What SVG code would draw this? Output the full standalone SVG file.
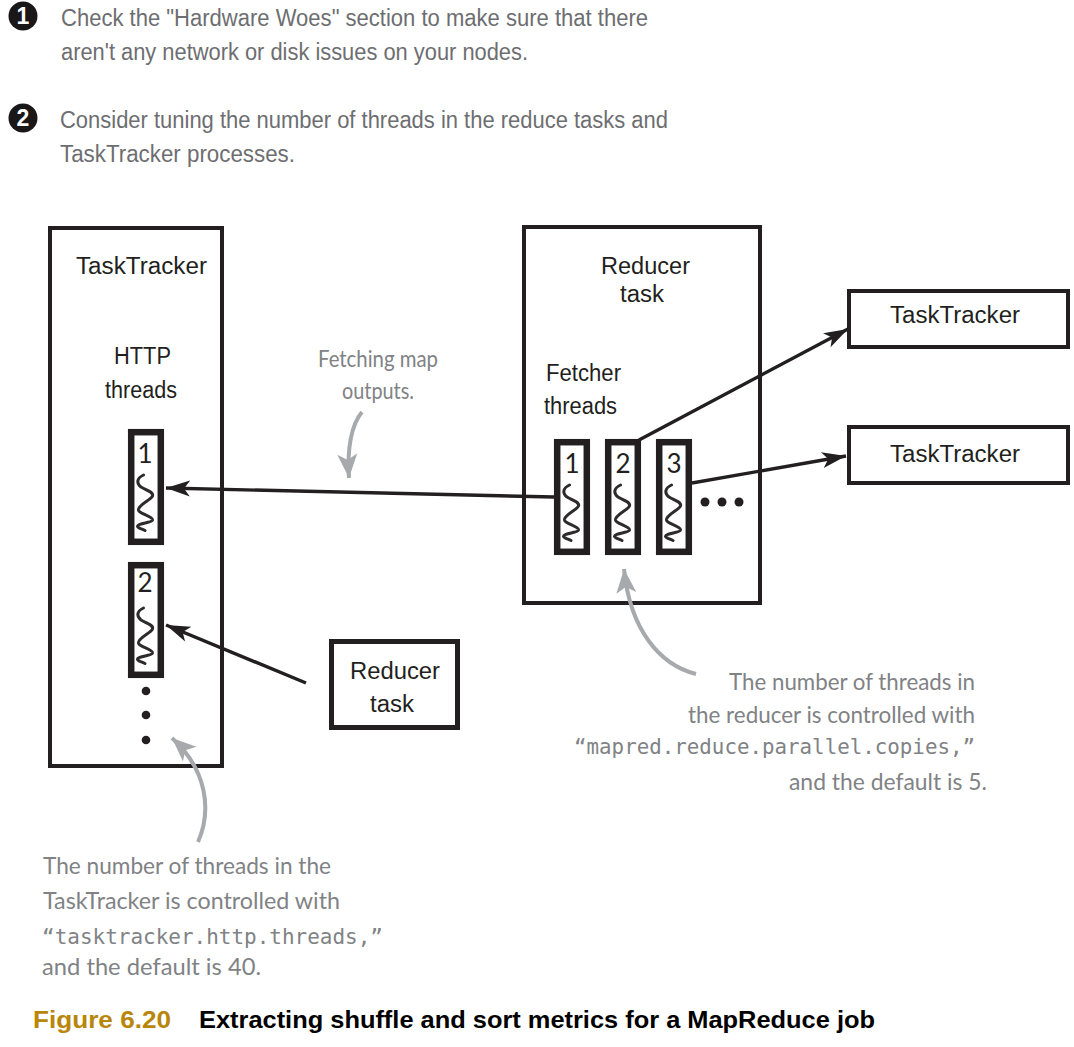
<svg xmlns="http://www.w3.org/2000/svg" width="1074" height="1047" viewBox="0 0 1074 1047">
<style>
text{font-family:"Liberation Sans",Arial,sans-serif}
.intro{font-size:23px;fill:#6d6e71}
.lab{font-size:23.5px;fill:#231f20}
.num{font-size:26px;fill:#231f20;text-anchor:middle;font-family:"Lato",sans-serif}
.note{font-family:"Lato","Open Sans",sans-serif;font-size:24px;fill:#808285}
.code{font-family:"DejaVu Sans Mono","Liberation Mono",monospace;font-size:21px;fill:#808285}
.box{fill:#fff;stroke:#231f20;stroke-width:4}
.thr{fill:#fff;stroke:#231f20;stroke-width:6.500}
.sq{fill:none;stroke:#2e2b2c;stroke-width:3;stroke-linecap:round}
.ln{fill:none;stroke:#231f20;stroke-width:3.400}
.gr{fill:none;stroke:#a7a9ac;stroke-width:4}
.dot{fill:#231f20}
</style>
<defs>
<marker id="ah" markerUnits="userSpaceOnUse" markerWidth="26" markerHeight="18" refX="24" refY="9" orient="auto"><path d="M0 1L24 9L0 17L6 9Z" fill="#231f20"/></marker>
<marker id="gh" markerUnits="userSpaceOnUse" markerWidth="26" markerHeight="22" refX="24" refY="11" orient="auto"><path d="M0 1L24 11L0 21L6 11Z" fill="#a7a9ac"/></marker>
<g id="thread">
<rect class="thr" x="3.200" y="3.200" width="29.600" height="109.600"/>
<path class="sq" d="M15.500 46C9 49 8 54 13 58C18 61 26 63 24.500 67C23 71 10 76 10.500 81C11 85 25 87 24.500 91C24 94 9 94 9.500 97.500C10 99 14 100 17 101.500"/>
</g>
</defs>

<g id="intro">
<circle cx="23" cy="16" r="14.500" fill="#1a1718"/>
<text x="23" y="24" font-size="23" font-weight="700" fill="#fff" text-anchor="middle">1</text>
<text class="intro" x="61" y="26" textLength="587" lengthAdjust="spacingAndGlyphs">Check the "Hardware Woes" section to make sure that there</text>
<text class="intro" x="61" y="60" textLength="467" lengthAdjust="spacingAndGlyphs">aren't any network or disk issues on your nodes.</text>
<circle cx="23" cy="118" r="14.500" fill="#1a1718"/>
<text x="23" y="126" font-size="23" font-weight="700" fill="#fff" text-anchor="middle">2</text>
<text class="intro" x="60" y="128" textLength="608" lengthAdjust="spacingAndGlyphs">Consider tuning the number of threads in the reduce tasks and</text>
<text class="intro" x="60" y="162" textLength="235" lengthAdjust="spacingAndGlyphs">TaskTracker processes.</text>
</g>

<g id="tasktracker-main">
<rect class="box" x="50" y="228" width="172" height="538"/>
<text class="lab" x="76" y="274" textLength="131" lengthAdjust="spacingAndGlyphs">TaskTracker</text>
<text class="lab" x="114" y="364" textLength="57" lengthAdjust="spacingAndGlyphs">HTTP</text>
<text class="lab" x="105" y="398" textLength="72" lengthAdjust="spacingAndGlyphs">threads</text>
</g>
<g id="http-thread-1"><use href="#thread" x="128" y="429"/><text class="num" x="145" y="463">1</text></g>
<g id="http-thread-2"><use href="#thread" x="128" y="562"/><text class="num" x="145" y="592">2</text></g>
<g id="http-dots"><circle class="dot" cx="146" cy="691" r="4.300"/><circle class="dot" cx="146" cy="715" r="4.300"/><circle class="dot" cx="146" cy="740" r="4.300"/></g>

<g id="reducer-main">
<rect class="box" x="524" y="227" width="236" height="376"/>
<text class="lab" x="601" y="274" textLength="89" lengthAdjust="spacingAndGlyphs">Reducer</text>
<text class="lab" x="620" y="302" textLength="44" lengthAdjust="spacingAndGlyphs">task</text>
<text class="lab" x="546" y="381" textLength="75" lengthAdjust="spacingAndGlyphs">Fetcher</text>
<text class="lab" x="544" y="414" textLength="73" lengthAdjust="spacingAndGlyphs">threads</text>
</g>
<g id="fetcher-1"><use href="#thread" x="554" y="439"/><text class="num" x="572" y="473">1</text></g>
<g id="fetcher-2"><use href="#thread" x="605" y="439"/><text class="num" x="623" y="473">2</text></g>
<g id="fetcher-3"><use href="#thread" x="656" y="439"/><text class="num" x="674" y="473">3</text></g>
<g id="fetcher-dots"><circle class="dot" cx="705" cy="502" r="4.500"/><circle class="dot" cx="722" cy="502" r="4.500"/><circle class="dot" cx="739" cy="502" r="4.500"/></g>

<g id="tasktracker-1"><rect class="box" x="849" y="291" width="219" height="56"/><text class="lab" x="890" y="323" textLength="130" lengthAdjust="spacingAndGlyphs">TaskTracker</text></g>
<g id="tasktracker-2"><rect class="box" x="849" y="427" width="219" height="56"/><text class="lab" x="890" y="462" textLength="130" lengthAdjust="spacingAndGlyphs">TaskTracker</text></g>
<g id="reducer-task"><rect x="331.500" y="641.500" width="126" height="86" fill="#fff" stroke="#231f20" stroke-width="5"/><text class="lab" x="350" y="679" textLength="90" lengthAdjust="spacingAndGlyphs">Reducer</text><text class="lab" x="370" y="712" textLength="44" lengthAdjust="spacingAndGlyphs">task</text></g>

<g id="connectors">
<path class="ln" marker-end="url(#ah)" d="M554 497L166 488"/>
<path class="ln" marker-end="url(#ah)" d="M306 683L166 625"/>
<path class="ln" marker-end="url(#ah)" d="M639 440L848 329"/>
<path class="ln" marker-end="url(#ah)" d="M692 483L846 456"/>
<path class="gr" marker-end="url(#gh)" d="M362 412C351 425 347 450 349 478"/>
<path class="gr" marker-end="url(#gh)" d="M696 674C660 665 630 630 624 569"/>
<path class="gr" marker-end="url(#gh)" d="M198 842C212 810 207 770 172 738"/>
</g>

<g id="notes">
<text class="note" x="318" y="367" textLength="120" lengthAdjust="spacingAndGlyphs">Fetching map</text>
<text class="note" x="342" y="399" textLength="72" lengthAdjust="spacingAndGlyphs">outputs.</text>
<text class="note" x="975" y="690" text-anchor="end" textLength="246" lengthAdjust="spacingAndGlyphs">The number of threads in</text>
<text class="note" x="975" y="723" text-anchor="end" textLength="287" lengthAdjust="spacingAndGlyphs">the reducer is controlled with</text>
<text class="code" x="975" y="754" text-anchor="end" textLength="401" lengthAdjust="spacingAndGlyphs">“mapred.reduce.parallel.copies,”</text>
<text class="note" x="987" y="790" text-anchor="end" textLength="198" lengthAdjust="spacingAndGlyphs">and the default is 5.</text>
<text class="note" x="43" y="874" textLength="288" lengthAdjust="spacingAndGlyphs">The number of threads in the</text>
<text class="note" x="43" y="909" textLength="297" lengthAdjust="spacingAndGlyphs">TaskTracker is controlled with</text>
<text class="code" x="42" y="944" textLength="341" lengthAdjust="spacingAndGlyphs">“tasktracker.http.threads,”</text>
<text class="note" x="42" y="975" textLength="219" lengthAdjust="spacingAndGlyphs">and the default is 40.</text>
</g>

<g id="caption">
<text x="33" y="1028" font-size="24" font-weight="700" fill="#b8860b" textLength="138" lengthAdjust="spacingAndGlyphs">Figure 6.20</text>
<text x="199" y="1028" font-size="24" font-weight="700" fill="#000" textLength="676" lengthAdjust="spacingAndGlyphs">Extracting shuffle and sort metrics for a MapReduce job</text>
</g>
</svg>
